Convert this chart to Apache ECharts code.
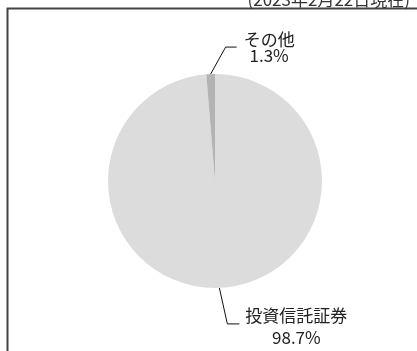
<!DOCTYPE html>
<html>
<head>
<meta charset="utf-8">
<script src="https://cdn.jsdelivr.net/npm/echarts@6/dist/echarts.min.js"></script>
<style>
  html, body { margin: 0; padding: 0; background: #fff; }
  #chart { width: 417px; height: 351px; }
</style>
</head>
<body>
<div id="chart"></div>
<script>
// Asset allocation breakdown
const categories = ['投資信託証券', 'その他'];
const shares = [98.7, 1.3];
const sliceColors = ['#dcdcdc', '#b3b3b3'];
const asOfText = '(2023年2月22日現在)';

const CJK = '"Noto Sans CJK JP", "Noto Sans", sans-serif';

const chart = echarts.init(document.getElementById('chart'), null, { renderer: 'canvas' });

// Leader-line geometry per slice: offset to the elbow, then a horizontal run
const leader = [
  { dx: 8, dy: 36, run: 12, gap: 6, shift: 3, lh: 22 },
  { dx: 15, dy: -27, run: 11, gap: 7, shift: 0, lh: 16 }
];

const data = categories.map((name, i) => ({
  name,
  value: shares[i],
  itemStyle: { color: sliceColors[i] },
  label: { lineHeight: leader[i].lh }
}));

chart.setOption({
  animation: false,
  backgroundColor: '#fff',
  graphic: [
    {
      type: 'polyline',
      shape: { points: [[7.5, 351], [7.5, 8.5], [417, 8.5]] },
      style: { stroke: '#444', lineWidth: 2, fill: null }
    },
    {
      type: 'text',
      right: 7,
      top: -9,
      style: { text: asOfText, font: '17px ' + CJK, fill: '#333' }
    }
  ],
  series: [{
    type: 'pie',
    center: [215, 181],
    radius: 107,
    startAngle: 90,
    clockwise: true,
    data,
    label: {
      show: true,
      position: 'outside',
      fontSize: 17,
      fontFamily: CJK,
      color: '#222',
      align: 'center',
      formatter: p => p.name + '\n' + p.value.toFixed(1) + '%'
    },
    labelLine: {
      show: true,
      length: 10,
      length2: 10,
      lineStyle: { color: '#111', width: 1 }
    },
    labelLayout: function (p) {
      const L = leader[p.dataIndex];
      const a = p.labelLinePoints[0];
      const elbow = [a[0] + L.dx, a[1] + L.dy];
      const end = [elbow[0] + L.run, elbow[1]];
      return {
        x: end[0] + L.gap + p.labelRect.width / 2,
        y: end[1] + L.shift,
        align: 'center',
        verticalAlign: 'middle',
        labelLinePoints: [a, elbow, end]
      };
    }
  }]
});
</script>
</body>
</html>
